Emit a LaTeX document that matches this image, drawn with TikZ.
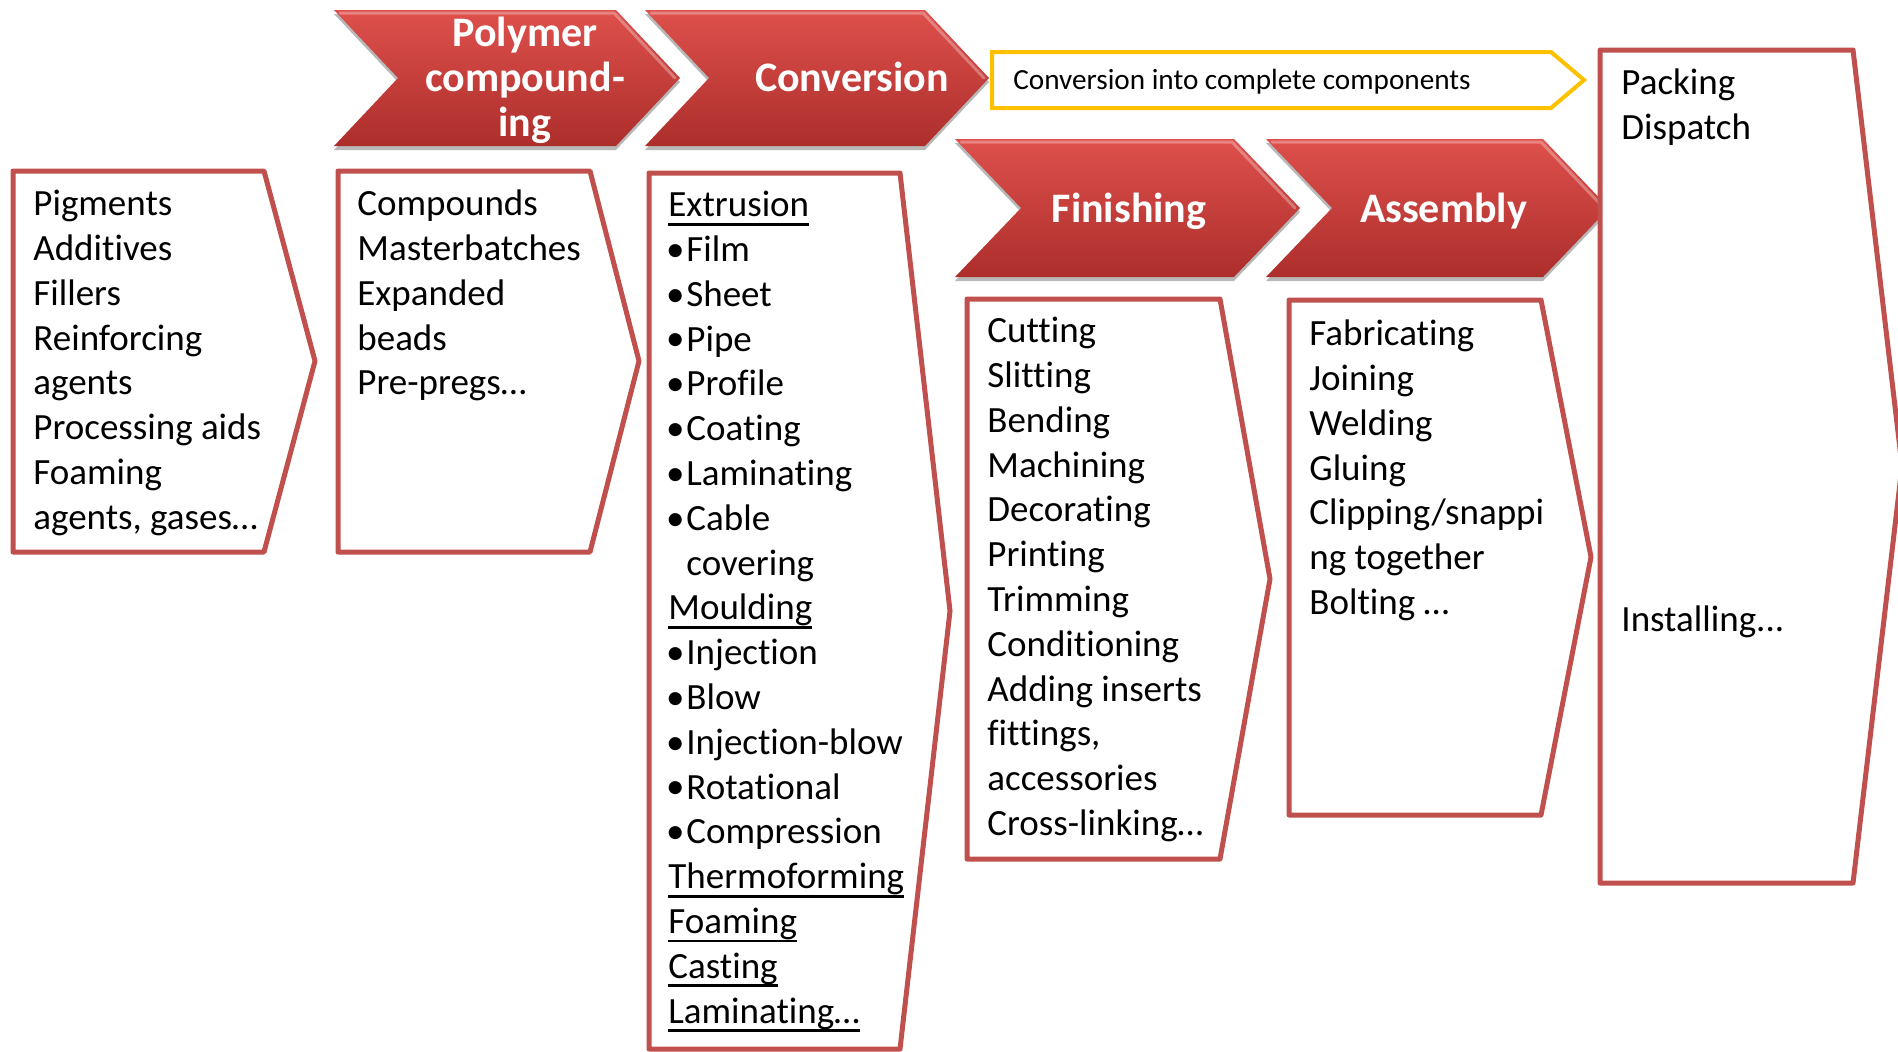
\documentclass[tikz,border=0pt]{standalone}
\usepackage{fontspec}
\setmainfont{Carlito}[Ligatures=NoCommon]
\usetikzlibrary{shadows}
\definecolor{boxred}{RGB}{192,80,77}
\definecolor{chevtop}{RGB}{222,80,76}
\definecolor{chevbot}{RGB}{172,46,43}
\definecolor{ylw}{RGB}{255,192,0}
\newcommand\undl[1]{\setbox0\hbox{#1}\rlap{\rule[-4.4pt]{\wd0}{1.4pt}}\box0}
\newcommand\bul{\makebox[9pt][l]{\hspace{-1.2pt}\raisebox{0.1pt}{\scalebox{1.0}{•}}}}
\begin{document}
\begin{tikzpicture}[x=0.5pt,y=-0.5pt,
  outl/.style={draw=boxred, line width=2.5pt, fill=white, line join=round},
  chev/.style={top color=chevtop, bottom color=chevbot, draw=none,
    drop shadow={shadow xshift=0pt, shadow yshift=-2pt, opacity=0.28, fill=black}},
  bevel/.style={draw=white, draw opacity=0.3, line width=1.5pt, line cap=round},
  body/.style={anchor=north west, inner sep=0pt, align=left, font=\fontsize{18.5}{22.4}\selectfont},
  chevtxt/.style={text=white, inner sep=0pt, align=center, font=\bfseries\fontsize{21}{22.5}\selectfont}]
\useasboundingbox[fill=white] (0,0) rectangle (1898,1051);

% top chevrons
\path[chev] (334,10) -- (616,10) -- (680,78) -- (616,146) -- (334,146) -- (398,78) -- cycle;
\draw[bevel] (340,13) -- (614,13) -- (675,78);
\path[chev] (645,10) -- (925,10) -- (989,78) -- (925,146) -- (645,146) -- (709,78) -- cycle;
\draw[bevel] (651,13) -- (923,13) -- (984,78);
\node[chevtxt, anchor=north] (tpoly) at (525,15) {\strut Polymer\\compound-\\ing};
\node[chevtxt, anchor=base] (tconv) at (852,91.5) {Conversion};

% yellow arrow
\draw[draw=ylw, line width=2pt, fill=white] (992,52) -- (1551,52) -- (1584,80) -- (1551,108) -- (992,108) -- cycle;
\node[anchor=base west, inner sep=0pt, font=\fontsize{14.6}{17}\selectfont] (tcomp) at (1013,89) {Conversion into complete components};

% second row chevrons
\path[chev] (955,139) -- (1234,139) -- (1300,208) -- (1234,277) -- (955,277) -- (1021,208) -- cycle;
\draw[bevel] (961,142) -- (1232,142) -- (1295,208);
\path[chev] (1266,139) -- (1543,139) -- (1609,208) -- (1543,277) -- (1266,277) -- (1332,208) -- cycle;
\draw[bevel] (1272,142) -- (1541,142) -- (1604,208);
\node[chevtxt, anchor=base] (tfin) at (1129,222.5) {Finishing};
\node[chevtxt, anchor=base] (tass) at (1443.5,222.5) {Assembly};

% outlined boxes
\draw[outl] (13,171) -- (264,171) -- (315,361) -- (264,552) -- (13,552) -- cycle;
\draw[outl] (338,171) -- (590,171) -- (639,361) -- (590,552) -- (338,552) -- cycle;
\draw[outl] (649,173) -- (900,173) -- (950,611) -- (900,1049) -- (649,1049) -- cycle;
\draw[outl] (967,299) -- (1220,299) -- (1270,579) -- (1220,859) -- (967,859) -- cycle;
\draw[outl] (1289,300) -- (1541,300) -- (1591,557) -- (1541,815) -- (1289,815) -- cycle;
\draw[outl] (1600,50) -- (1853,50) -- (1902,466) -- (1853,883) -- (1600,883) -- cycle;

\node[body] (t1) at (33,184) {\strut Pigments\\Additives\\Fillers\\Reinforcing\\agents\\Processing aids\\Foaming\\agents, gases…};
\node[body] (t2) at (357,184) {\strut Compounds\\Masterbatches\\Expanded\\beads\\Pre-pregs…};
\node[body] (t3) at (668,185) {\strut\undl{Extrusion}\\\bul Film\\\bul Sheet\\\bul Pipe\\\bul Profile\\\bul Coating\\\bul Laminating\\\bul Cable\\\hspace*{9pt}covering\\\undl{Moulding}\\\bul Injection\\\bul Blow\\\bul Injection-blow\\\bul Rotational\\\bul Compression\\\undl{Thermoforming}\\\undl{Foaming}\\\undl{Casting}\\\undl{Laminating…}};
\node[body] (t4) at (987,311) {\strut Cutting\\Slitting\\Bending\\Machining\\Decorating\\Printing\\Trimming\\Conditioning\\Adding inserts\\fittings,\\accessories\\Cross-linking…};
\node[body] (t5) at (1309,314) {\strut Fabricating\\Joining\\Welding\\Gluing\\Clipping/snappi\\ng together\\Bolting …};
\node[body] (t6) at (1621,63) {\strut Packing\\Dispatch};
\node[anchor=base west, inner sep=0pt, font=\fontsize{18.5}{22.4}\selectfont] (t7) at (1621,631) {Installing...};
\end{tikzpicture}
\end{document}
